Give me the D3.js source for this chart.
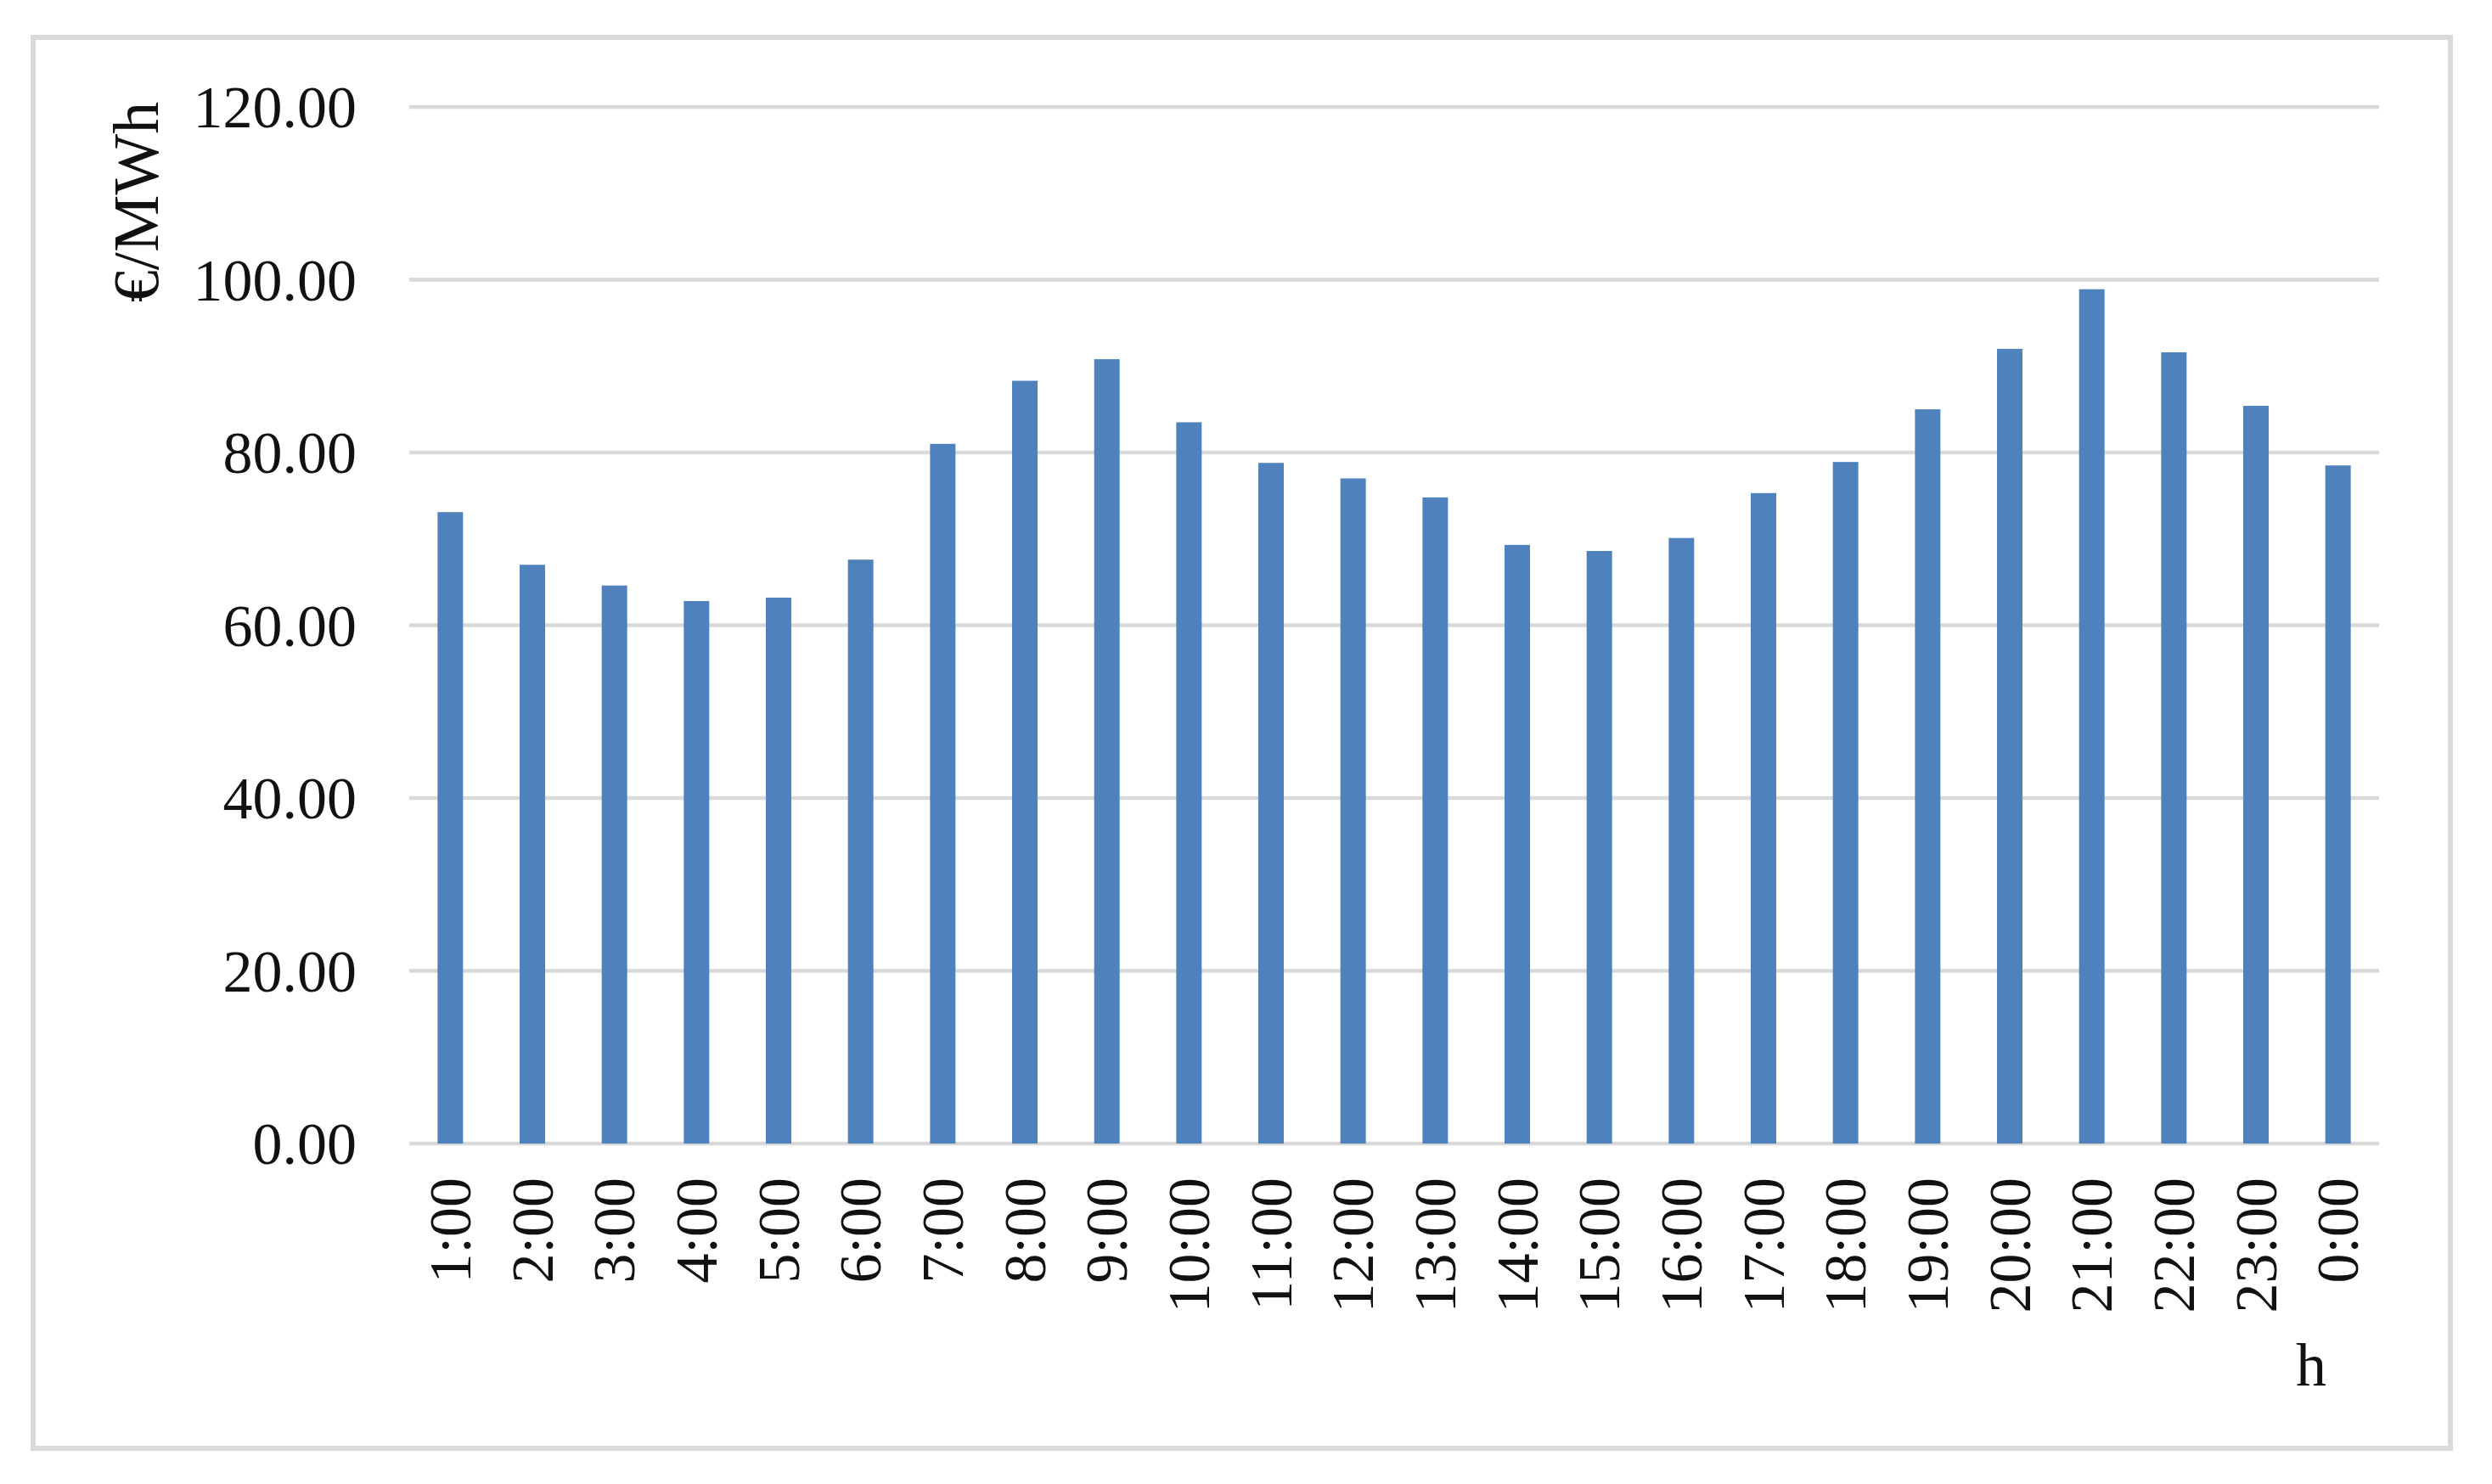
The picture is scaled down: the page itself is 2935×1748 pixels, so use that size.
<!DOCTYPE html>
<meta charset="utf-8">
<style>
body { margin: 0; background: #fff; }

.grid line {
  stroke: #d9d9d9;
  stroke-width: 4.5px;
}

.axis text {
  font-family: "Liberation Serif", "Times New Roman", serif;
  font-size: 70px;
  fill: #111;
}

.title {
  font-family: "Liberation Serif", "Times New Roman", serif;
  fill: #111;
}
</style>

<svg width="2935" height="1748"></svg>
<script src="https://cdn.jsdelivr.net/npm/d3@7/dist/d3.min.js"></script>
<script>

// hourly prices
var hours = ["1:00", "2:00", "3:00", "4:00", "5:00", "6:00", "7:00", "8:00",
             "9:00", "10:00", "11:00", "12:00", "13:00", "14:00", "15:00", "16:00",
             "17:00", "18:00", "19:00", "20:00", "21:00", "22:00", "23:00", "0:00"];

var prices = [73.1, 67.0, 64.6, 62.8, 63.2, 67.6, 81.0, 88.3,
              90.8, 83.5, 78.8, 77.0, 74.8, 69.3, 68.6, 70.1,
              75.3, 78.9, 85.0, 92.0, 98.9, 91.6, 85.4, 78.5];

var yTicks = [0, 20, 40, 60, 80, 100, 120];

var svg = d3.select("svg"),
    width = +svg.attr("width"),
    height = +svg.attr("height");

var plot = { left: 482, right: 2802, top: 126, bottom: 1347 };

// outer frame
svg.append("rect")
    .attr("x", 39)
    .attr("y", 44)
    .attr("width", 2847)
    .attr("height", 1662)
    .attr("fill", "#fff")
    .attr("stroke", "#d9d9d9")
    .attr("stroke-width", 6);

var x = d3.scaleBand()
    .domain(hours)
    .range([plot.left, plot.right])
    .paddingInner(0.69)
    .paddingOuter(0.345);

var y = d3.scaleLinear()
    .domain([0, 120])
    .range([plot.bottom, plot.top]);

// gridlines
svg.append("g")
    .attr("class", "grid")
  .selectAll("line")
  .data(yTicks)
  .enter().append("line")
    .attr("x1", plot.left)
    .attr("x2", plot.right)
    .attr("y1", function(d) { return y(d); })
    .attr("y2", function(d) { return y(d); });

// bars
svg.append("g")
  .selectAll("rect")
  .data(prices)
  .enter().append("rect")
    .attr("x", function(d, i) { return x(hours[i]); })
    .attr("y", function(d) { return y(d); })
    .attr("width", x.bandwidth())
    .attr("height", function(d) { return y(0) - y(d); })
    .attr("fill", "#4f81bd");

// y axis labels
var yAxis = svg.append("g")
    .attr("class", "axis")
    .attr("transform", "translate(420,0)")
    .call(d3.axisLeft(y).tickValues(yTicks).tickSize(0).tickPadding(0)
      .tickFormat(d3.format(".2f")));
yAxis.select(".domain").remove();
yAxis.selectAll("text").attr("dy", "0.34em");

// x axis labels, rotated
var xAxis = svg.append("g")
    .attr("class", "axis")
    .attr("transform", "translate(0,1387)")
    .call(d3.axisBottom(x).tickSize(0).tickPadding(0));
xAxis.select(".domain").remove();
xAxis.selectAll("text")
    .attr("text-anchor", "end")
    .attr("transform", "rotate(-90)")
    .attr("x", 0)
    .attr("y", 0)
    .attr("dy", "0.34em");

// axis titles
svg.append("text")
    .attr("class", "title")
    .attr("transform", "translate(186,238) rotate(-90)")
    .attr("text-anchor", "middle")
    .style("font-size", "76px")
    .text("€/MWh");

svg.append("text")
    .attr("class", "title")
    .attr("x", 2722)
    .attr("y", 1632)
    .attr("text-anchor", "middle")
    .style("font-size", "72px")
    .text("h");

</script>
